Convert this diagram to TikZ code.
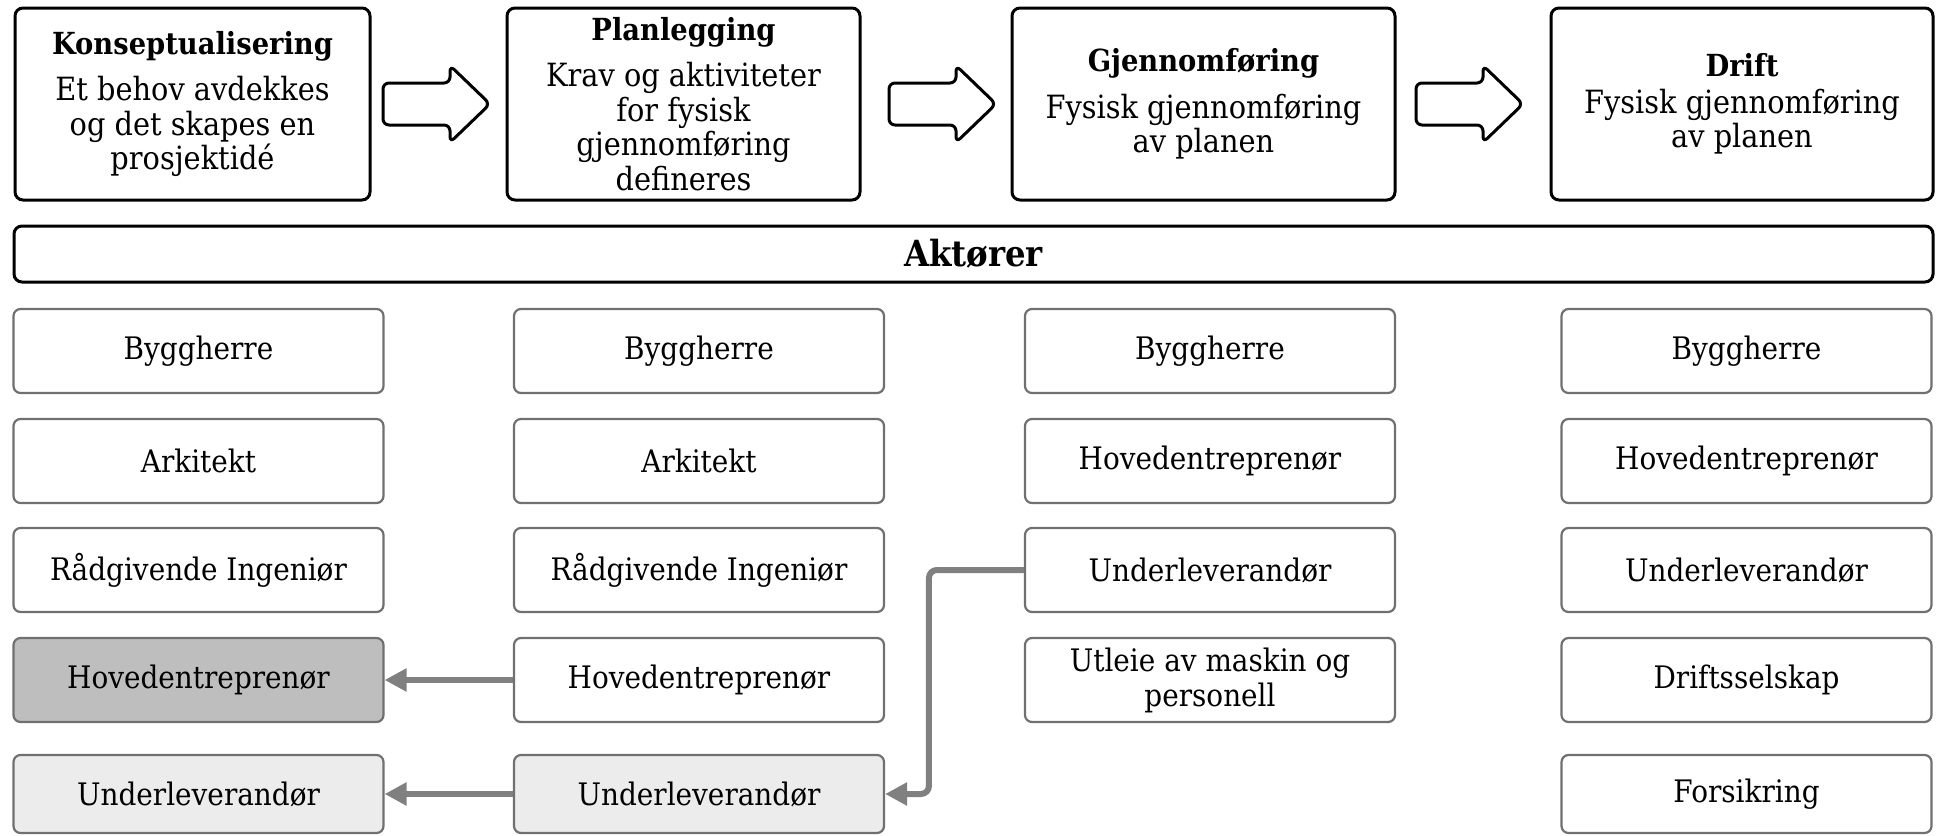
\documentclass[tikz,border=0pt]{standalone}
\usepackage{fontspec}
\setmainfont{DejaVu Serif}[FakeStretch=0.9]
\usetikzlibrary{arrows.meta}
\definecolor{boxgray}{HTML}{707070}
\definecolor{conngray}{HTML}{808080}
\definecolor{darkfill}{HTML}{BEBEBE}
\definecolor{lightfill}{HTML}{ECECEC}
\begin{document}
\begin{tikzpicture}[x=0.5pt,y=-0.5pt,
  phase/.style={draw=black, line width=1.5pt, rounded corners=4pt, fill=white, inner sep=0pt, align=center,
    minimum height=96pt, font=\fontsize{16}{17.3}\selectfont},
  actor/.style={draw=boxgray, line width=1.1pt, rounded corners=3.5pt, fill=white, inner sep=0pt, align=center,
    minimum width=185pt, minimum height=42pt, font=\fontsize{15.5}{17.5}\selectfont},
  lastrow/.style={minimum height=39pt},
  blockarrow/.style={draw=black, line width=1.5pt, rounded corners=3pt, fill=white},
  conn/.style={draw=conngray, line width=3pt, -{Triangle[length=11pt,width=11pt]}},
]
\useasboundingbox (0,0) rectangle (1937,835);

% phase boxes
\node[phase, minimum width=177.5pt] (k) at (192.5,104)
  {{\fontsize{15.2}{17}\selectfont\bfseries Konseptualisering}\\[6pt]Et behov avdekkes\\og det skapes en\\prosjektidé};
\node[phase, minimum width=176.5pt] (p) at (683.5,104)
  {{\fontsize{15.2}{17}\selectfont\bfseries Planlegging}\\[6pt]Krav og aktiviteter\\for fysisk\\gjennomføring\\defineres};
\node[phase, minimum width=191.5pt] (g) at (1203.5,104)
  {{\fontsize{15.2}{17}\selectfont\bfseries Gjennomføring}\\[6pt]Fysisk gjennomføring\\av planen};
\node[phase, minimum width=191pt] (d) at (1742,104)
  {{\fontsize{15.2}{17}\selectfont\bfseries Drift}\\[1pt]Fysisk gjennomføring\\av planen};

% block arrows
\foreach \x in {383,889,1416}
  \draw[blockarrow] (\x,83) -- (\x+67,83) -- (\x+67,65.5) -- (\x+107,104) -- (\x+67,142.5) -- (\x+67,125) -- (\x,125) -- cycle;

% actors bar
\node[draw=black, line width=1.5pt, rounded corners=4pt, inner sep=0pt, minimum width=959.5pt, minimum height=28pt,
  font=\fontsize{18}{20}\selectfont\bfseries] (akt) at (973.5,254) {Aktører};

% column 1
\node[actor] (b1) at (198.5,351) {Byggherre};
\node[actor] (a1) at (198.5,461) {Arkitekt};
\node[actor] (r1) at (198.5,570) {Rådgivende Ingeniør};
\node[actor, fill=darkfill] (h1) at (198.5,680) {Hovedentreprenør};
\node[actor, lastrow, fill=lightfill] (u1) at (198.5,794) {Underleverandør};
% column 2
\node[actor] (b2) at (699,351) {Byggherre};
\node[actor] (a2) at (699,461) {Arkitekt};
\node[actor] (r2) at (699,570) {Rådgivende Ingeniør};
\node[actor] (h2) at (699,680) {Hovedentreprenør};
\node[actor, lastrow, fill=lightfill] (u2) at (699,794) {Underleverandør};
% column 3
\node[actor] (b3) at (1210,351) {Byggherre};
\node[actor] (h3) at (1210,461) {Hovedentreprenør};
\node[actor] (u3) at (1210,570) {Underleverandør};
\node[actor] (m3) at (1210,680) {Utleie av maskin og\\personell};
% column 4
\node[actor] (b4) at (1746.5,351) {Byggherre};
\node[actor] (h4) at (1746.5,461) {Hovedentreprenør};
\node[actor] (u4) at (1746.5,570) {Underleverandør};
\node[actor] (d4) at (1746.5,680) {Driftsselskap};
\node[actor, lastrow] (f4) at (1746.5,794) {Forsikring};

% connectors
\draw[conn] (h2.west) -- (h1.east);
\draw[conn] (u2.west) -- (u1.east);
\draw[conn, rounded corners=4pt] (u3.west) -- ++(-95,0) |- (u2.east);
\end{tikzpicture}
\end{document}
